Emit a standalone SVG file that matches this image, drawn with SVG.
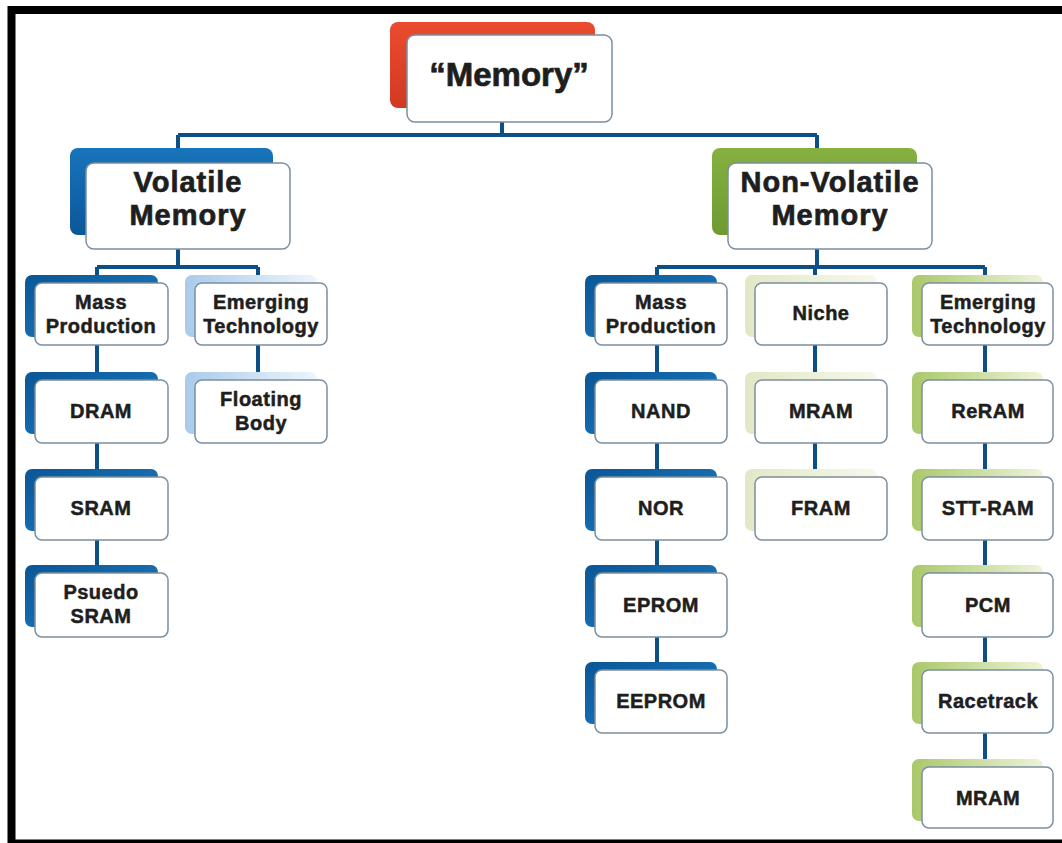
<svg xmlns="http://www.w3.org/2000/svg" width="1062" height="843" viewBox="0 0 1062 843">
<defs>
<linearGradient id="gBlue" x1="0" y1="0" x2="1" y2="1"><stop offset="0" stop-color="#0a5696"/><stop offset="1" stop-color="#1f80c6"/></linearGradient>
<linearGradient id="gLBlue" x1="0" y1="0" x2="1" y2="0"><stop offset="0" stop-color="#a9cbea"/><stop offset="1" stop-color="#eef5fb"/></linearGradient>
<linearGradient id="gPale" x1="0" y1="0" x2="1" y2="0"><stop offset="0" stop-color="#e2e8c6"/><stop offset="1" stop-color="#f6f8ea"/></linearGradient>
<linearGradient id="gLGreen" x1="0" y1="0" x2="1" y2="0"><stop offset="0" stop-color="#aac86a"/><stop offset="1" stop-color="#eef3d8"/></linearGradient>
<linearGradient id="gRed" x1="0" y1="0" x2="0" y2="1"><stop offset="0" stop-color="#ea4b2e"/><stop offset="1" stop-color="#d13a22"/></linearGradient>
<linearGradient id="gGreen" x1="0" y1="0" x2="0" y2="1"><stop offset="0" stop-color="#86b040"/><stop offset="1" stop-color="#6e9a32"/></linearGradient>
<linearGradient id="gDBlue" x1="0" y1="0" x2="0" y2="1"><stop offset="0" stop-color="#1874bb"/><stop offset="1" stop-color="#0a5898"/></linearGradient>
</defs>
<style>
.front{fill:#ffffff;stroke:#7b8fa0;stroke-width:1.5}
.conn{stroke:#0b4f86;stroke-width:4;fill:none}
.t{font-family:"Liberation Sans",Arial,sans-serif;font-weight:bold;fill:#1e1e1e;stroke:#1e1e1e;stroke-width:0.5;text-anchor:middle}
.s{font-size:20px;letter-spacing:0.5px}
.b{font-size:29px;letter-spacing:1px;stroke-width:0.7}
.m{font-size:33px;stroke-width:0.7}
</style>
<rect x="0" y="0" width="1062" height="843" fill="#ffffff"/>
<path d="M11.5 843 V10 H1062" fill="none" stroke="#000" stroke-width="8"/>
<line x1="8" y1="841.5" x2="1062" y2="841.5" stroke="#000" stroke-width="4"/>

<g id="connectors">
<path class="conn" d="M502 122 V135 M178 135 H817 M178 135 V163 M817 135 V163"/>
<path class="conn" d="M178 249 V267 M97 267 H258 M97 267 V573 M258 267 V380"/>
<path class="conn" d="M817 249 V267 M657 267 H985 M657 267 V670 M815 267 V477 M985 267 V767"/>
</g>

<g id="memory">
<rect x="390" y="22" width="205" height="86" rx="8" fill="url(#gRed)"/>
<rect class="front" x="407" y="35" width="205" height="87" rx="8"/>
<text class="t m" x="509" y="86">“Memory”</text>
</g>

<g id="volatile">
<rect x="70" y="148" width="203" height="87" rx="8" fill="url(#gDBlue)"/>
<rect class="front" x="86" y="163" width="204" height="86" rx="8"/>
<text class="t b" x="188" y="192">Volatile</text>
<text class="t b" x="188" y="225">Memory</text>
</g>

<g id="nonvolatile">
<rect x="712" y="148" width="205" height="87" rx="8" fill="url(#gGreen)"/>
<rect class="front" x="728" y="163" width="204" height="86" rx="8"/>
<text class="t b" x="830" y="192">Non-Volatile</text>
<text class="t b" x="830" y="225">Memory</text>
</g>

<!-- Volatile: mass production column -->
<g id="v-mass">
<rect x="25" y="275" width="133" height="62" rx="7" fill="url(#gBlue)"/>
<rect class="front" x="35" y="283" width="133" height="62" rx="7"/>
<text class="t s" x="101" y="309">Mass</text>
<text class="t s" x="101" y="333">Production</text>
</g>
<g id="v-dram">
<rect x="25" y="372" width="133" height="62" rx="7" fill="url(#gBlue)"/>
<rect class="front" x="35" y="380" width="133" height="63" rx="7"/>
<text class="t s" x="101" y="418">DRAM</text>
</g>
<g id="v-sram">
<rect x="25" y="469" width="133" height="62" rx="7" fill="url(#gBlue)"/>
<rect class="front" x="35" y="477" width="133" height="63" rx="7"/>
<text class="t s" x="101" y="515">SRAM</text>
</g>
<g id="v-psram">
<rect x="25" y="565" width="133" height="62" rx="7" fill="url(#gBlue)"/>
<rect class="front" x="35" y="573" width="133" height="64" rx="7"/>
<text class="t s" x="101" y="599">Psuedo</text>
<text class="t s" x="101" y="623">SRAM</text>
</g>

<!-- Volatile: emerging column -->
<g id="v-emerging">
<rect x="185" y="275" width="132" height="62" rx="7" fill="url(#gLBlue)"/>
<rect class="front" x="195" y="283" width="132" height="62" rx="7"/>
<text class="t s" x="261" y="309">Emerging</text>
<text class="t s" x="261" y="333">Technology</text>
</g>
<g id="v-floating">
<rect x="185" y="372" width="132" height="62" rx="7" fill="url(#gLBlue)"/>
<rect class="front" x="195" y="380" width="132" height="63" rx="7"/>
<text class="t s" x="261" y="406">Floating</text>
<text class="t s" x="261" y="430">Body</text>
</g>

<!-- Non-volatile: mass production column -->
<g id="nv-mass">
<rect x="585" y="275" width="132" height="62" rx="7" fill="url(#gBlue)"/>
<rect class="front" x="595" y="283" width="132" height="62" rx="7"/>
<text class="t s" x="661" y="309">Mass</text>
<text class="t s" x="661" y="333">Production</text>
</g>
<g id="nv-nand">
<rect x="585" y="372" width="132" height="62" rx="7" fill="url(#gBlue)"/>
<rect class="front" x="595" y="380" width="132" height="63" rx="7"/>
<text class="t s" x="661" y="418">NAND</text>
</g>
<g id="nv-nor">
<rect x="585" y="469" width="132" height="62" rx="7" fill="url(#gBlue)"/>
<rect class="front" x="595" y="477" width="132" height="63" rx="7"/>
<text class="t s" x="661" y="515">NOR</text>
</g>
<g id="nv-eprom">
<rect x="585" y="565" width="132" height="62" rx="7" fill="url(#gBlue)"/>
<rect class="front" x="595" y="573" width="132" height="64" rx="7"/>
<text class="t s" x="661" y="612">EPROM</text>
</g>
<g id="nv-eeprom">
<rect x="585" y="662" width="132" height="62" rx="7" fill="url(#gBlue)"/>
<rect class="front" x="595" y="670" width="132" height="63" rx="7"/>
<text class="t s" x="661" y="708">EEPROM</text>
</g>

<!-- Non-volatile: niche column -->
<g id="nv-niche">
<rect x="745" y="275" width="132" height="62" rx="7" fill="url(#gPale)"/>
<rect class="front" x="755" y="283" width="132" height="62" rx="7"/>
<text class="t s" x="821" y="320">Niche</text>
</g>
<g id="nv-mram1">
<rect x="745" y="372" width="132" height="62" rx="7" fill="url(#gPale)"/>
<rect class="front" x="755" y="380" width="132" height="63" rx="7"/>
<text class="t s" x="821" y="418">MRAM</text>
</g>
<g id="nv-fram">
<rect x="745" y="469" width="132" height="62" rx="7" fill="url(#gPale)"/>
<rect class="front" x="755" y="477" width="132" height="63" rx="7"/>
<text class="t s" x="821" y="515">FRAM</text>
</g>

<!-- Non-volatile: emerging column -->
<g id="nv-emerging">
<rect x="912" y="275" width="131" height="62" rx="7" fill="url(#gLGreen)"/>
<rect class="front" x="922" y="283" width="131" height="62" rx="7"/>
<text class="t s" x="988" y="309">Emerging</text>
<text class="t s" x="988" y="333">Technology</text>
</g>
<g id="nv-reram">
<rect x="912" y="372" width="131" height="62" rx="7" fill="url(#gLGreen)"/>
<rect class="front" x="922" y="380" width="131" height="63" rx="7"/>
<text class="t s" x="988" y="418">ReRAM</text>
</g>
<g id="nv-sttram">
<rect x="912" y="469" width="131" height="62" rx="7" fill="url(#gLGreen)"/>
<rect class="front" x="922" y="477" width="131" height="63" rx="7"/>
<text class="t s" x="988" y="515">STT-RAM</text>
</g>
<g id="nv-pcm">
<rect x="912" y="565" width="131" height="62" rx="7" fill="url(#gLGreen)"/>
<rect class="front" x="922" y="573" width="131" height="64" rx="7"/>
<text class="t s" x="988" y="612">PCM</text>
</g>
<g id="nv-racetrack">
<rect x="912" y="662" width="131" height="62" rx="7" fill="url(#gLGreen)"/>
<rect class="front" x="922" y="670" width="131" height="63" rx="7"/>
<text class="t s" x="988" y="708">Racetrack</text>
</g>
<g id="nv-mram2">
<rect x="912" y="759" width="131" height="62" rx="7" fill="url(#gLGreen)"/>
<rect class="front" x="922" y="767" width="131" height="61" rx="7"/>
<text class="t s" x="988" y="805">MRAM</text>
</g>
</svg>
